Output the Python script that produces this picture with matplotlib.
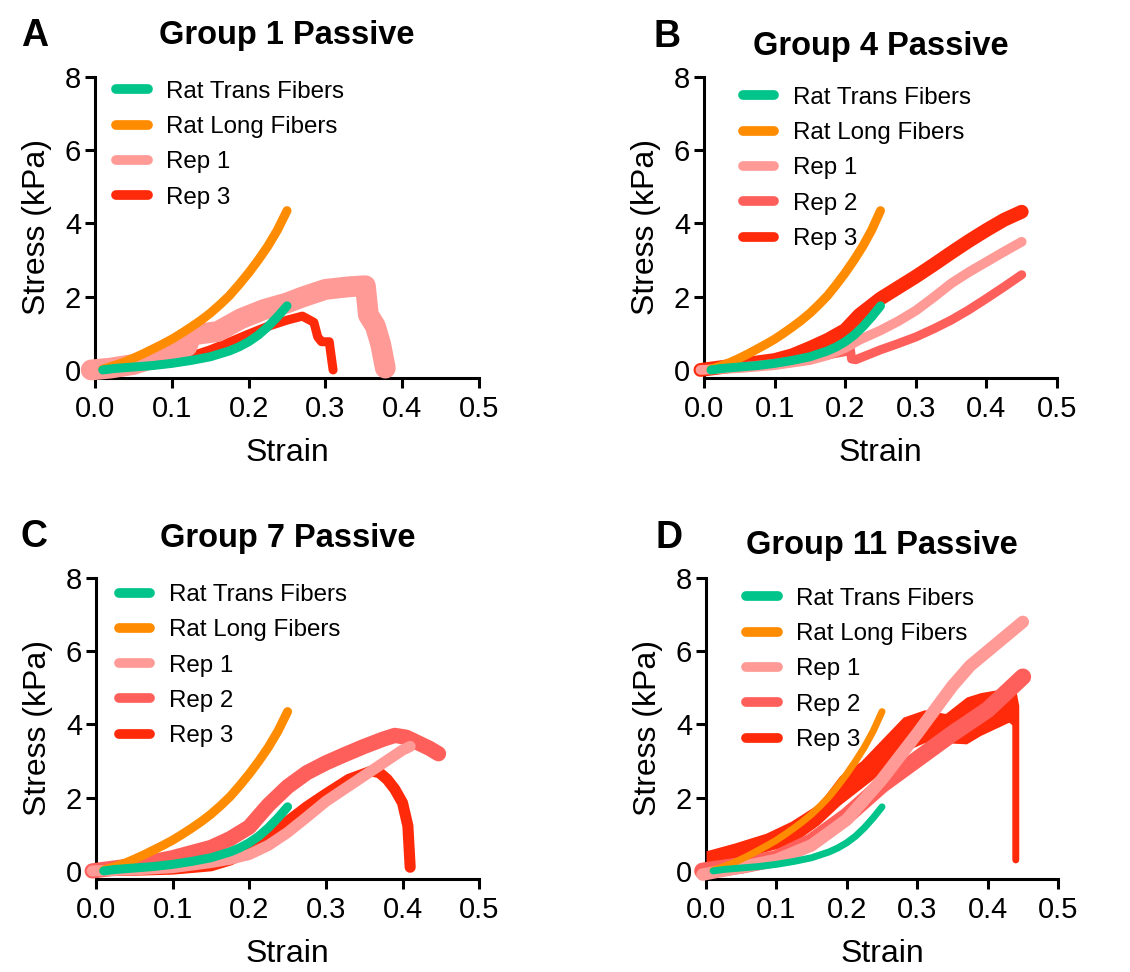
import matplotlib
matplotlib.use('Agg')
import matplotlib.pyplot as plt
from matplotlib.ticker import FormatStrFormatter

plt.rcParams['font.family'] = ['Liberation Sans', 'DejaVu Sans']

# rat reference curves (same in every panel)
trans_strain = [0.01, 0.025, 0.05, 0.075, 0.1, 0.125, 0.15, 0.175, 0.1875, 0.2, 0.2125, 0.225, 0.2375, 0.25]
trans_stress = [0.0, 0.04, 0.08, 0.12, 0.18, 0.26, 0.36, 0.52, 0.63, 0.77, 0.95, 1.18, 1.45, 1.75]
long_strain = [0.01, 0.025, 0.0375, 0.05, 0.0625, 0.075, 0.0875, 0.1, 0.1125, 0.125, 0.1375, 0.15,
               0.1625, 0.175, 0.1875, 0.2, 0.2125, 0.225, 0.2375, 0.25]
long_stress = [0.02, 0.12, 0.21, 0.32, 0.44, 0.57, 0.7, 0.84, 1.0, 1.17, 1.35, 1.55,
               1.78, 2.03, 2.33, 2.65, 3.0, 3.38, 3.82, 4.35]

# Group 1
g1_rep1_strain = [-0.005, 0.02, 0.05, 0.08, 0.1, 0.12, 0.125, 0.16, 0.19, 0.22, 0.25, 0.27, 0.3, 0.33, 0.352, 0.356, 0.365, 0.372, 0.378]
g1_rep1_stress = [0.0, 0.05, 0.15, 0.35, 0.5, 0.65, 0.95, 1.05, 1.4, 1.65, 1.83, 1.99, 2.2, 2.27, 2.3, 1.5, 1.2, 0.7, 0.05]
g1_rep3_strain = [-0.004, 0.05, 0.1, 0.15, 0.175, 0.2, 0.225, 0.25, 0.27, 0.285, 0.29, 0.295, 0.305, 0.308, 0.31]
g1_rep3_stress = [0.0, 0.08, 0.2, 0.55, 0.76, 0.98, 1.19, 1.36, 1.47, 1.3, 0.9, 0.77, 0.77, 0.3, 0.0]

# Group 4
g4_rep1_strain = [-0.005, 0.05, 0.1, 0.15, 0.175, 0.2, 0.22, 0.25, 0.275, 0.3, 0.325, 0.35, 0.375, 0.4, 0.425, 0.45]
g4_rep1_stress = [0.0, 0.05, 0.13, 0.27, 0.4, 0.6, 0.82, 1.08, 1.33, 1.62, 1.98, 2.36, 2.67, 2.95, 3.23, 3.5]
g4_rep2_strain = [-0.005, 0.05, 0.1, 0.15, 0.2, 0.207, 0.209, 0.215, 0.25, 0.275, 0.3, 0.325, 0.35, 0.375, 0.4, 0.425, 0.45]
g4_rep2_stress = [0.0, 0.08, 0.18, 0.32, 0.5, 0.6, 0.3, 0.28, 0.55, 0.72, 0.9, 1.12, 1.36, 1.64, 1.95, 2.27, 2.6]
g4_rep3_strain = [-0.005, 0.05, 0.1, 0.125, 0.15, 0.175, 0.2, 0.22, 0.25, 0.275, 0.3, 0.325, 0.35, 0.375, 0.4, 0.425, 0.45]
g4_rep3_stress = [0.0, 0.14, 0.27, 0.4, 0.6, 0.82, 1.09, 1.5, 1.95, 2.25, 2.55, 2.87, 3.2, 3.52, 3.82, 4.1, 4.32]

# Group 7
g7_rep1_strain = [-0.005, 0.05, 0.1, 0.15, 0.175, 0.2, 0.225, 0.25, 0.275, 0.3, 0.325, 0.35, 0.375, 0.4, 0.41]
g7_rep1_stress = [0.0, 0.03, 0.09, 0.23, 0.32, 0.45, 0.7, 1.05, 1.47, 1.9, 2.25, 2.6, 2.95, 3.3, 3.4]
g7_rep2_strain = [-0.005, 0.05, 0.1, 0.15, 0.175, 0.2, 0.225, 0.25, 0.275, 0.3, 0.325, 0.35, 0.375, 0.39, 0.405, 0.42, 0.435, 0.447]
g7_rep2_stress = [0.0, 0.15, 0.36, 0.64, 0.88, 1.2, 1.8, 2.3, 2.68, 2.95, 3.18, 3.4, 3.6, 3.7, 3.65, 3.5, 3.35, 3.2]
g7_rep3_strain = [-0.005, 0.05, 0.1, 0.15, 0.175, 0.2, 0.225, 0.25, 0.275, 0.3, 0.33, 0.36, 0.37, 0.38, 0.39, 0.4, 0.407, 0.41]
g7_rep3_stress = [0.0, 0.02, 0.05, 0.14, 0.3, 0.55, 0.86, 1.35, 1.75, 2.1, 2.5, 2.73, 2.68, 2.5, 2.23, 1.86, 1.23, 0.1]

# Group 11
g11_rep1_strain = [-0.005, 0.05, 0.1, 0.15, 0.2, 0.25, 0.3, 0.35, 0.375, 0.4, 0.425, 0.45]
g11_rep1_stress = [-0.1, 0.1, 0.3, 0.7, 1.4, 2.5, 3.75, 5.05, 5.6, 6.0, 6.4, 6.8]
g11_rep2_strain = [-0.005, 0.05, 0.1, 0.15, 0.2, 0.25, 0.3, 0.35, 0.4, 0.45]
g11_rep2_stress = [0.0, 0.15, 0.34, 0.8, 1.5, 2.35, 3.05, 3.75, 4.4, 5.3]
g11_rep3_strain = [0.0, 0.04, 0.085, 0.12, 0.16, 0.19, 0.22, 0.25, 0.28, 0.31, 0.34, 0.37, 0.39, 0.43, 0.436]
g11_rep3_upper = [0.55, 0.76, 1.03, 1.35, 1.84, 2.6, 3.0, 3.6, 4.2, 4.4, 4.3, 4.75, 4.87, 5.0, 5.05]
g11_rep3_lower = [0.0, 0.3, 0.53, 0.71, 1.26, 1.8, 2.25, 2.7, 3.25, 3.5, 3.5, 3.47, 3.7, 4.06, 3.97]
g11_drop_strain = [0.436, 0.44, 0.44]
g11_drop_stress = [4.9, 4.5, 0.3]

labels = ['Rat Trans Fibers', 'Rat Long Fibers', 'Rep 1', 'Rep 2', 'Rep 3']
colors = ['#00C48A', '#FF8C00', '#FF9A96', '#FF5F5A', '#FF2A0A']
titles = ['Group 1 Passive', 'Group 4 Passive', 'Group 7 Passive', 'Group 11 Passive']
letters = ['A', 'B', 'C', 'D']

fig = plt.figure(figsize=(11.3, 9.72), dpi=100)
rects = [[0.0841, 0.6111, 0.3398, 0.3097],
         [0.6230, 0.6111, 0.3124, 0.3097],
         [0.0850, 0.0957, 0.3390, 0.3097],
         [0.6248, 0.0957, 0.3115, 0.3097]]
title_pads = [24, 16, 22, 17]
letter_pos = [(0.019, 0.963), (0.578, 0.962), (0.018, 0.448), (0.580, 0.446)]
legend_anchor = [(0.055, 0.987), (0.110, 0.967), (0.060, 0.980), (0.114, 0.967)]


def ref_curves(ax, lw):
    ax.plot(trans_strain, trans_stress, color=colors[0], lw=lw, zorder=10,
            solid_capstyle='round', clip_on=False, label=labels[0])
    ax.plot(long_strain, long_stress, color=colors[1], lw=lw, zorder=9,
            solid_capstyle='round', clip_on=False, label=labels[1])


def rep(ax, x, y, i, lw):
    ax.plot(x, y, color=colors[i], lw=lw, zorder=8 - i, solid_capstyle='round',
            solid_joinstyle='round', clip_on=False, label=labels[i])


axes = [fig.add_axes(r) for r in rects]

ax = axes[0]
ref_curves(ax, 6.5)
rep(ax, g1_rep1_strain, g1_rep1_stress, 2, 15)
rep(ax, g1_rep3_strain, g1_rep3_stress, 4, 6.5)

ax = axes[1]
ref_curves(ax, 6.5)
rep(ax, g4_rep1_strain, g4_rep1_stress, 2, 7)
rep(ax, g4_rep2_strain, g4_rep2_stress, 3, 6.5)
rep(ax, g4_rep3_strain, g4_rep3_stress, 4, 10)

ax = axes[2]
ref_curves(ax, 6.5)
rep(ax, g7_rep1_strain, g7_rep1_stress, 2, 8)
rep(ax, g7_rep2_strain, g7_rep2_stress, 3, 11)
rep(ax, g7_rep3_strain, g7_rep3_stress, 4, 8)

ax = axes[3]
ref_curves(ax, 5)
rep(ax, g11_rep1_strain, g11_rep1_stress, 2, 9)
rep(ax, g11_rep2_strain, g11_rep2_stress, 3, 12)
ax.fill_between(g11_rep3_strain, g11_rep3_lower, g11_rep3_upper, color=colors[4],
                lw=0, zorder=4, clip_on=False)
ax.plot(g11_drop_strain, g11_drop_stress, color=colors[4], lw=5, zorder=4,
        solid_capstyle='round', clip_on=False, label=labels[4])

for k, ax in enumerate(axes):
    ax.set_xlim(0, 0.5)
    ax.set_ylim(-0.22, 8)
    ax.set_xticks([0.0, 0.1, 0.2, 0.3, 0.4, 0.5])
    ax.set_yticks([0, 2, 4, 6, 8])
    ax.xaxis.set_major_formatter(FormatStrFormatter('%.1f'))
    for s in ['top', 'right']:
        ax.spines[s].set_visible(False)
    for s in ['left', 'bottom']:
        ax.spines[s].set_linewidth(2.2)
    ax.tick_params(width=2.2, length=7, labelsize=21)
    ax.tick_params(axis='x', pad=5)
    ax.tick_params(axis='y', pad=3)
    ax.set_xlabel('Strain', fontsize=23, labelpad=11)
    ax.set_ylabel('Stress (kPa)', fontsize=23, labelpad=9)
    ax.set_title(titles[k], fontsize=23.5, fontweight='bold', pad=title_pads[k])
    leg = ax.legend(loc='upper left', bbox_to_anchor=legend_anchor[k], frameon=False,
                    fontsize=17.4, handlelength=1.3, handletextpad=0.76,
                    labelspacing=0.55, borderpad=0, borderaxespad=0)
    for h in leg.get_lines():
        h.set_linewidth(7)
        h.set_solid_capstyle('round')
    fig.text(letter_pos[k][0], letter_pos[k][1], letters[k], fontsize=27,
             fontweight='bold', va='center', ha='left')

fig.savefig('out.png', dpi=100)
